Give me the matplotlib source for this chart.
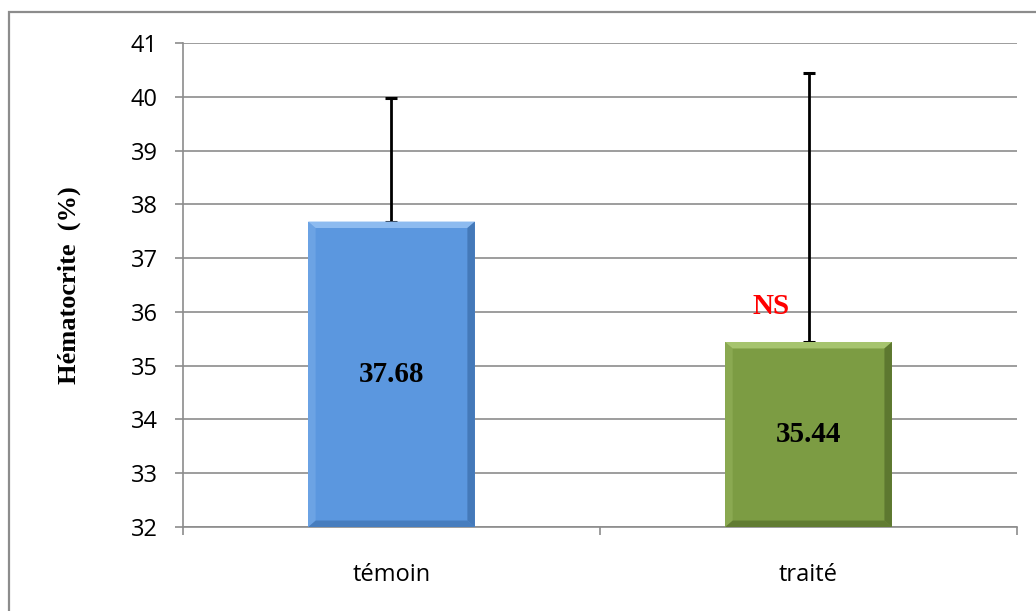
import matplotlib.pyplot as plt
from matplotlib.patches import Polygon, Rectangle

groups = ['témoin', 'traité']
hematocrit = [37.68, 35.44]
err_up = [2.29, 5.00]
bar_colors = ['#5B97DF', '#7C9C43']
light_edge = ['#8DBBF0', '#A6C46E']
dark_edge = ['#3F72B0', '#566F2C']

fig = plt.figure(figsize=(10.36, 6.11), dpi=100)
ax = fig.add_axes([0.1766, 0.1375, 0.8051, 0.7921])

# outer chart frame
fig.patches.append(Rectangle((9 / 1036, -0.05), 1.1, 1 - 12 / 611 + 0.05,
                             transform=fig.transFigure, fill=False,
                             edgecolor='#8C8C8C', linewidth=1.6, zorder=0))

x = range(len(groups))
bars = ax.bar(x, [v - 32 for v in hematocrit], bottom=32, width=0.4,
              color=bar_colors, zorder=3)
ax.errorbar(x, hematocrit, yerr=[[0, 0], err_up], fmt='none', ecolor='black',
            elinewidth=2, capsize=4.5, capthick=2.2, zorder=2)

# bevel look on each bar
for b, lc, dc in zip(bars, light_edge, dark_edge):
    x0, y0 = b.get_x(), b.get_y()
    w, h = b.get_width(), b.get_height()
    dx, dy = w * 0.045, 0.12
    ax.add_patch(Polygon([(x0, y0 + h), (x0 + w, y0 + h), (x0 + w - dx, y0 + h - dy),
                          (x0 + dx, y0 + h - dy)], color=lc, zorder=4, lw=0))
    ax.add_patch(Polygon([(x0, y0), (x0 + w, y0), (x0 + w - dx, y0 + dy),
                          (x0 + dx, y0 + dy)], color=dc, zorder=4, lw=0, alpha=0.7))
    ax.add_patch(Polygon([(x0 + w, y0), (x0 + w, y0 + h), (x0 + w - dx, y0 + h - dy),
                          (x0 + w - dx, y0 + dy)], color=dc, zorder=4, lw=0, alpha=0.8))
    ax.add_patch(Polygon([(x0, y0), (x0, y0 + h), (x0 + dx, y0 + h - dy),
                          (x0 + dx, y0 + dy)], color=lc, zorder=4, lw=0, alpha=0.35))
    ax.text(x0 + w / 2, y0 + h / 2, f'{y0 + h:.2f}', ha='center', va='center',
            fontsize=21, fontweight='bold', family='Liberation Serif', zorder=5)

ax.text(0.91, 36.1, 'NS', color='red', ha='center', va='center', fontsize=21,
        fontweight='bold', family='Liberation Serif', zorder=5)

ax.set_ylim(32, 41)
ax.set_xlim(-0.5, 1.5)
ax.set_yticks(range(32, 42))
ax.set_xticks(x)
ax.set_xticklabels(groups)
ax.set_xticks([-0.5, 0.5, 1.5], minor=True)
ax.grid(axis='y', color='#8C8C8C', linewidth=1.2, zorder=0)
ax.set_axisbelow(True)
for s in ['top', 'right']:
    ax.spines[s].set_visible(False)
for s in ['left', 'bottom']:
    ax.spines[s].set_color('#8C8C8C')
    ax.spines[s].set_linewidth(1.2)
ax.tick_params(axis='y', length=6, width=1.2, color='#8C8C8C', labelsize=17, pad=12)
ax.tick_params(axis='x', which='major', length=0, labelsize=17, pad=26)
ax.tick_params(axis='x', which='minor', length=6, width=1.2, color='#8C8C8C')
for lab in ax.get_xticklabels() + ax.get_yticklabels():
    lab.set_family('Open Sans')

ax.set_ylabel('Hématocrite  (%)', fontsize=19, fontweight='bold',
              family='Liberation Serif', labelpad=36)

fig.savefig('out.png', dpi=100)
